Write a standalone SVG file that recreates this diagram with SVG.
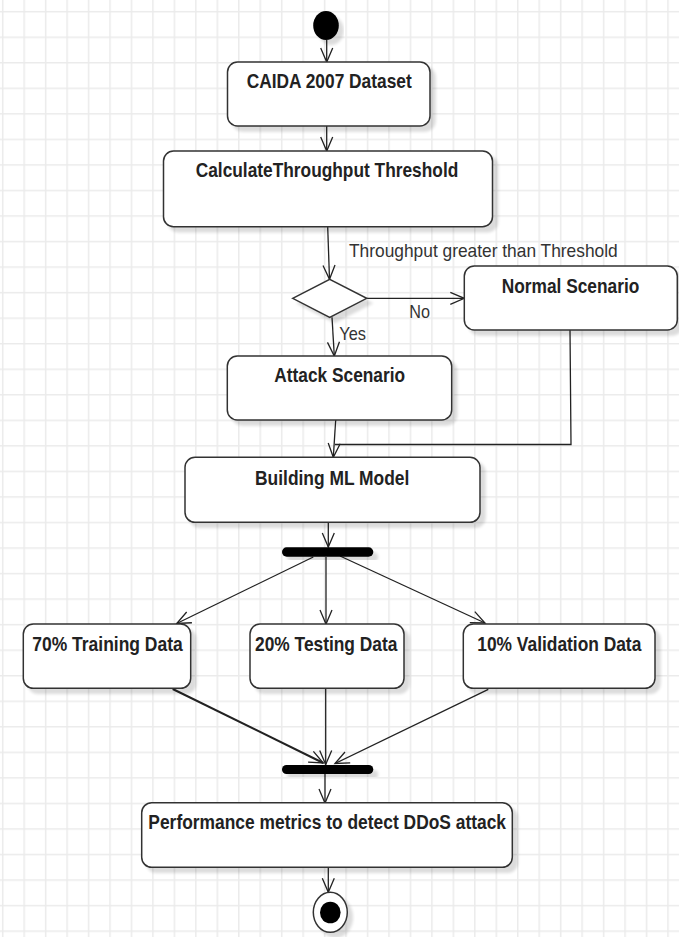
<svg xmlns="http://www.w3.org/2000/svg" width="679" height="937" viewBox="0 0 679 937">
<style>
.box{fill:#fff;stroke:#333;stroke-width:1.5;filter:url(#sh)}
.lbl{font-family:"Liberation Sans",Arial,sans-serif;font-weight:bold;font-size:19.8px;fill:#222;text-anchor:middle}
.edge{font-family:"Liberation Sans",Arial,sans-serif;font-size:18.5px;fill:#333}
.con{fill:none;stroke:#222;stroke-width:1.3;marker-end:url(#arr)}
.ln{fill:none;stroke:#222;stroke-width:1.3}
.bar{fill:#000;filter:url(#sh)}
</style>
<defs>
<pattern id="grid" patternUnits="userSpaceOnUse" x="1.95" y="10.95" width="21.46" height="25.54">
<path d="M0.75 0V25.54M0 0.75H21.46" stroke="#ebebeb" stroke-width="1.5" fill="none"/>
</pattern>
<filter id="sh" x="-10%" y="-10%" width="130%" height="140%">
<feGaussianBlur in="SourceAlpha" stdDeviation="1.5"/>
<feOffset dx="5" dy="5" result="o"/>
<feComponentTransfer><feFuncA type="linear" slope="0.14"/></feComponentTransfer>
<feMerge><feMergeNode/><feMergeNode in="SourceGraphic"/></feMerge>
</filter>
<marker id="arr" markerUnits="userSpaceOnUse" markerWidth="18" markerHeight="16" refX="15" refY="7" orient="auto">
<path d="M1 1L15 7L1 13" fill="none" stroke="#222" stroke-width="1.3"/>
</marker>
</defs>
<rect width="679" height="937" fill="#fff"/>
<rect width="679" height="937" fill="url(#grid)"/>

<g id="connectors">
<line class="con" x1="326.7" y1="40" x2="326.7" y2="62"/>
<line class="con" x1="326.7" y1="126" x2="326.7" y2="151"/>
<line class="con" x1="327.7" y1="227" x2="329.5" y2="279.3"/>
<line class="con" x1="366.7" y1="298.3" x2="464.3" y2="298.3"/>
<line class="con" x1="332" y1="317.3" x2="334.3" y2="356"/>
<line class="con" x1="335.7" y1="420" x2="333.3" y2="457.3"/>
<polyline class="ln" points="570,330 571,444.5 335,444.5"/>
<line class="con" x1="328.3" y1="522" x2="328.3" y2="547"/>
<line class="con" x1="313.3" y1="557" x2="176.7" y2="623.5"/>
<line class="con" x1="326" y1="557" x2="326" y2="624"/>
<line class="con" x1="340" y1="556" x2="485" y2="623"/>
<line class="con" x1="172.7" y1="689" x2="323.3" y2="763" style="stroke-width:2"/>
<line class="con" x1="325.7" y1="688.5" x2="325.7" y2="764.5"/>
<line class="con" x1="488.3" y1="689.3" x2="335" y2="763.5"/>
<line class="con" x1="325" y1="774" x2="325" y2="803"/>
<line class="con" x1="328.3" y1="867.3" x2="328.3" y2="892.3"/>
<text class="edge" x="349" y="256.7" textLength="268.7" lengthAdjust="spacingAndGlyphs">Throughput greater than Threshold</text>
<text class="edge" x="409.3" y="318.3" textLength="20.7" lengthAdjust="spacingAndGlyphs">No</text>
<text class="edge" x="339.3" y="340" textLength="26.7" lengthAdjust="spacingAndGlyphs">Yes</text>
</g>

<g id="start"><ellipse cx="326" cy="25.5" rx="12.8" ry="14.5" fill="#000" filter="url(#sh)"/></g>

<g id="caida">
<rect class="box" x="227.5" y="62" width="202.5" height="64" rx="10"/>
<text class="lbl" x="329.2" y="88.3" textLength="165" lengthAdjust="spacingAndGlyphs">CAIDA 2007 Dataset</text>
</g>

<g id="calc">
<rect class="box" x="163.5" y="151" width="329" height="75.7" rx="10"/>
<text class="lbl" x="327" y="177" textLength="262.6" lengthAdjust="spacingAndGlyphs">CalculateThroughput Threshold</text>
</g>

<g id="decision">
<polygon points="292.7,298.3 329.7,279.3 366.7,298.3 329.7,317.3" fill="#fff" stroke="#333" stroke-width="1.5" filter="url(#sh)"/>
</g>

<g id="normal">
<rect class="box" x="464.3" y="266" width="213" height="64" rx="10"/>
<text class="lbl" x="570.5" y="292.7" textLength="137.6" lengthAdjust="spacingAndGlyphs">Normal Scenario</text>
</g>

<g id="attack">
<rect class="box" x="227.3" y="356" width="224.4" height="64" rx="10"/>
<text class="lbl" x="339.7" y="382.3" textLength="130.7" lengthAdjust="spacingAndGlyphs">Attack Scenario</text>
</g>

<g id="building">
<rect class="box" x="185" y="457.3" width="295" height="65" rx="10"/>
<text class="lbl" x="332.2" y="485" textLength="154.3" lengthAdjust="spacingAndGlyphs">Building ML Model</text>
</g>

<g id="fork"><rect class="bar" x="282" y="547.3" width="91.3" height="9.4" rx="4.7"/></g>

<g id="training">
<rect class="box" x="23.3" y="624" width="167.4" height="64.3" rx="10"/>
<text class="lbl" x="107.5" y="650.7" textLength="150.4" lengthAdjust="spacingAndGlyphs">70% Training Data</text>
</g>

<g id="testing">
<rect class="box" x="250" y="624" width="154" height="64.3" rx="10"/>
<text class="lbl" x="326.2" y="650.7" textLength="142.3" lengthAdjust="spacingAndGlyphs">20% Testing Data</text>
</g>

<g id="validation">
<rect class="box" x="463.3" y="624" width="191.7" height="64.3" rx="10"/>
<text class="lbl" x="559.3" y="650.7" textLength="164" lengthAdjust="spacingAndGlyphs">10% Validation Data</text>
</g>

<g id="join"><rect class="bar" x="282" y="765" width="91.3" height="9" rx="4.5"/></g>

<g id="performance">
<rect class="box" x="141.7" y="802.7" width="370.6" height="64.6" rx="10"/>
<text class="lbl" x="327.2" y="829.3" textLength="357.7" lengthAdjust="spacingAndGlyphs">Performance metrics to detect DDoS attack</text>
</g>

<g id="end">
<ellipse cx="330.3" cy="912.3" rx="17" ry="20" fill="#fff" stroke="#333" stroke-width="1.5" filter="url(#sh)"/>
<ellipse cx="330.3" cy="912.5" rx="10.3" ry="10.8" fill="#000"/>
</g>
</svg>
